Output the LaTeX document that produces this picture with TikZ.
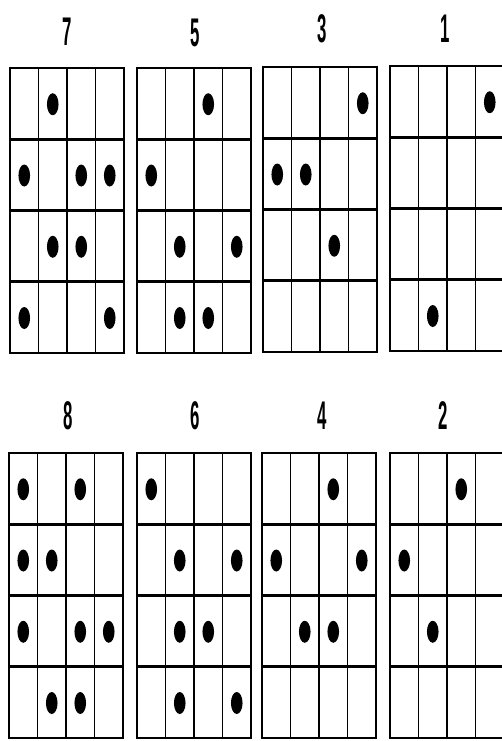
\documentclass[tikz,border=0pt]{standalone}
\usepackage{fontspec}
\setmainfont{Liberation Sans}
\newcommand\dotgridbox[3]{% #1 x, #2 y, #3 list of row/col
  \begin{scope}[shift={(#1,#2)}]
    \foreach \c in {1,2,3} \draw[vline] (\c*28.5,0) -- (\c*28.5,285);
    \foreach \r in {1,2,3} \draw[hline] (0,\r*71.25) -- (114,\r*71.25);
    \draw[frame] (0,0) rectangle (114,285);
    \foreach \r/\c in {#3}
      \fill[spot] (\c*28.5-14.25,\r*71.25-35) ellipse [x radius=5.8, y radius=11];
  \end{scope}}
\begin{document}
\begin{tikzpicture}[x=1pt,y=-1pt,
  hline/.style={line width=2.6pt},
  vline/.style={line width=1.5pt},
  frame/.style={line width=2.6pt},
  spot/.style={fill=black},
  lab/.style={font=\fontsize{40}{40}\selectfont\bfseries, xscale=0.42, inner sep=0pt}]
\useasboundingbox (0,0) rectangle (502,741);
\clip (0,0) rectangle (502,741);
\fill[white] (0,0) rectangle (502,741);
% labels
\node[lab] (l7) at (67,32) {7};
\node[lab] (l5) at (195,33) {5};
\node[lab] (l3) at (322,29) {3};
\node[lab] (l1) at (445,29) {1};
\node[lab] (l8) at (68,416) {8};
\node[lab] (l6) at (195,416) {6};
\node[lab] (l4) at (322,416) {4};
\node[lab] (l2) at (443,416) {2};
% top row grids
\dotgridbox{10}{68}{1/2,2/1,2/3,2/4,3/2,3/3,4/1,4/4}
\dotgridbox{137}{68}{1/3,2/1,3/2,3/4,4/2,4/3}
\dotgridbox{263}{67}{1/4,2/1,2/2,3/3}
\dotgridbox{390}{66}{1/4,4/2}
% bottom row grids
\dotgridbox{9}{453}{1/1,1/3,2/1,2/2,3/1,3/3,3/4,4/2,4/3}
\dotgridbox{137}{453}{1/1,2/2,2/4,3/2,3/3,4/2,4/4}
\dotgridbox{262}{453}{1/3,2/1,2/4,3/2,3/3}
\dotgridbox{390}{453}{1/3,2/1,3/2}
\end{tikzpicture}
\end{document}
